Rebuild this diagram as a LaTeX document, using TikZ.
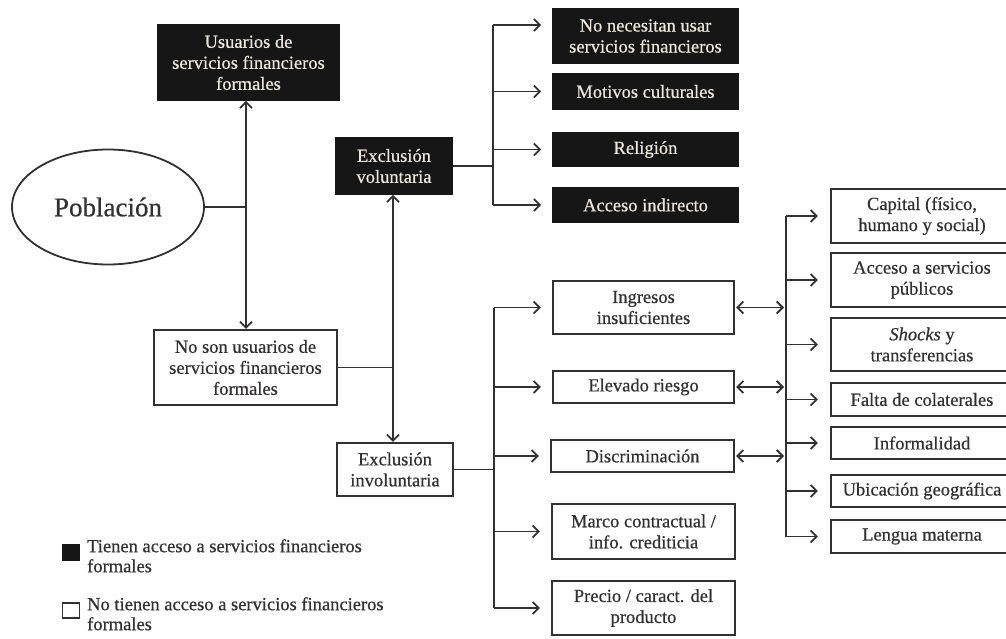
\documentclass[tikz,border=0pt]{standalone}
\usepackage{fontspec}
\setmainfont{Liberation Serif}[FakeBold=0.6]
\usetikzlibrary{arrows.meta,shapes.geometric}
\definecolor{ink}{HTML}{333130}
\definecolor{boxfill}{HTML}{161616}
\definecolor{paper}{HTML}{ECE5DA}
\begin{document}
\begin{tikzpicture}[x=1pt,y=-1pt,
  every node/.style={font=\fontsize{18.5}{21}\selectfont, inner sep=0pt, align=center, text=ink},
  darkbox/.style={draw=boxfill, fill=boxfill, text=paper, line width=1.6pt},
  lightbox/.style={draw=ink, fill=white, line width=2.2pt},
  ln/.style={draw=ink, line width=1.8pt},
  arr/.style={ln, -{Straight Barb[length=6pt,width=12pt,line width=1.8pt]}},
  dbl/.style={ln, {Straight Barb[length=6pt,width=12pt,line width=1.8pt]}-{Straight Barb[length=6pt,width=12pt,line width=1.8pt]}},
  legsq/.style={line width=1.8pt, minimum width=17pt, minimum height=15pt}
]
\fill[white] (0,0) rectangle (1006,639);
\useasboundingbox (0,0) rectangle (1006,639);

% left part
\node[draw=ink, line width=1.8pt, ellipse, minimum width=192pt, minimum height=115pt, font=\fontsize{27}{30}\selectfont] (pob) at (108,207) {Población};
\node[darkbox, minimum width=181pt, minimum height=75pt] (usu) at (248.5,62.5) {Usuarios de\\servicios financieros\\formales};
\node[lightbox, minimum width=183pt, minimum height=75pt] (noson) at (245.5,367.5) {No son usuarios de\\servicios financieros\\formales};
\node[darkbox, minimum width=116pt, minimum height=56pt] (vol) at (394,166) {Exclusión\\voluntaria};
\node[lightbox, minimum width=116pt, minimum height=53pt] (invol) at (395,469.5) {Exclusión\\involuntaria};

% voluntary reasons
\node[darkbox, minimum width=185pt, minimum height=54pt] (b1) at (645.5,36) {No necesitan usar\\servicios financieros};
\node[darkbox, minimum width=185pt, minimum height=35pt] (b2) at (645.5,91.5) {Motivos culturales};
\node[darkbox, minimum width=185pt, minimum height=33pt] (b3) at (645.5,149.5) {Religión};
\node[darkbox, minimum width=185pt, minimum height=34pt] (b4) at (645.5,205) {Acceso indirecto};

% involuntary reasons
\node[lightbox, minimum width=181pt, minimum height=53pt] (m1) at (643.5,307.5) {Ingresos\\insuficientes};
\node[lightbox, minimum width=181pt, minimum height=32pt] (m2) at (643.5,387) {Elevado riesgo};
\node[lightbox, minimum width=183pt, minimum height=32pt] (m3) at (642.5,456) {Discriminación};
\node[lightbox, minimum width=183pt, minimum height=55pt] (m4) at (643.5,531.5) {Marco contractual /\\info. crediticia};
\node[lightbox, minimum width=183pt, minimum height=54pt] (m5) at (643.5,608) {Precio / caract. del\\producto};

% determinants
\node[lightbox, minimum width=182pt, minimum height=54pt] (r1) at (922,216) {Capital (físico,\\humano y social)};
\node[lightbox, minimum width=182pt, minimum height=54pt] (r2) at (922,280) {Acceso a servicios\\públicos};
\node[lightbox, minimum width=182pt, minimum height=53pt] (r3) at (922,344.5) {\textit{Shocks} y\\transferencias};
\node[lightbox, minimum width=182pt, minimum height=33pt] (r4) at (922,399.5) {Falta de colaterales};
\node[lightbox, minimum width=182pt, minimum height=32pt] (r5) at (922,443) {Informalidad};
\node[lightbox, minimum width=182pt, minimum height=32pt] (r6) at (922,491) {Ubicación geográfica};
\node[lightbox, minimum width=182pt, minimum height=33pt] (r7) at (922,536.5) {Lengua materna};

% spine coordinates
\coordinate (ja) at (246,208);
\coordinate (jb) at (393,365);
\coordinate (jc) at (493,161);
\coordinate (jd) at (494,470);
\coordinate (je) at (786,300);
\coordinate (b1a) at ([yshift=11pt]b1.west);

% Poblacion split
\draw[ln] (pob.east) -- (pob.east -| ja);
\draw[arr] (pob.east -| ja) -- (ja |- usu.south);
\draw[arr] (pob.east -| ja) -- (ja |- noson.north);

% No son split
\draw[ln] (noson.east) -- (noson.east -| jb);
\draw[arr] (noson.east -| jb) -- (jb |- vol.south);
\draw[arr] (noson.east -| jb) -- (jb |- invol.north);

% voluntary
\draw[ln] (vol.east) -- (vol.east -| jc);
\draw[ln] (jc |- b1a) -- (jc |- b4.west);
\draw[arr, shorten >=11pt] (jc |- b1a) -- (b1a);
\draw[arr, shorten >=11pt] (jc |- b2.west) -- (b2.west);
\draw[arr, shorten >=11pt] (jc |- b3.west) -- (b3.west);
\draw[arr, shorten >=11pt] (jc |- b4.west) -- (b4.west);

% involuntary
\draw[ln] (invol.east) -- (invol.east -| jd);
\draw[ln] (jd |- m1.west) -- (jd |- m5.west);
\draw[arr, shorten >=11pt] (jd |- m1.west) -- (m1.west);
\draw[arr, shorten >=11pt] (jd |- m2.west) -- (m2.west);
\draw[arr, shorten >=11pt] (jd |- m3.west) -- (m3.west);
\draw[arr, shorten >=11pt] (jd |- m4.west) -- (m4.west);
\draw[arr, shorten >=11pt] (jd |- m5.west) -- (m5.west);

% determinants
\draw[dbl, shorten >=2pt, shorten <=1pt] (m1.east) -- (m1.east -| je);
\draw[dbl, shorten >=2pt, shorten <=1pt] (m2.east) -- (m2.east -| je);
\draw[dbl, shorten >=2pt, shorten <=1pt] (m3.east) -- (m3.east -| je);
\draw[ln] (je |- r1.west) -- (je |- r7.west);
\draw[arr, shorten >=12pt] (je |- r1.west) -- (r1.west);
\draw[arr, shorten >=12pt] (je |- r2.west) -- (r2.west);
\draw[arr, shorten >=12pt] (je |- r3.west) -- (r3.west);
\draw[arr, shorten >=12pt] (je |- r4.west) -- (r4.west);
\draw[arr, shorten >=12pt] (je |- r5.west) -- (r5.west);
\draw[arr, shorten >=12pt] (je |- r6.west) -- (r6.west);
\draw[arr, shorten >=12pt] (je |- r7.west) -- (r7.west);

% legend
\node[legsq, draw=boxfill, fill=boxfill] (lg1) at (71,552.5) {};
\node[legsq, draw=ink, fill=white] (lg2) at (71,610.5) {};
\node[anchor=north west, align=left, font=\fontsize{18.5}{20}\selectfont] (lt1) at (87,539) {Tienen acceso a servicios financieros\\formales};
\node[anchor=north west, align=left, font=\fontsize{18.5}{20}\selectfont] (lt2) at (87,597) {No tienen acceso a servicios financieros\\formales};
\end{tikzpicture}
\end{document}
